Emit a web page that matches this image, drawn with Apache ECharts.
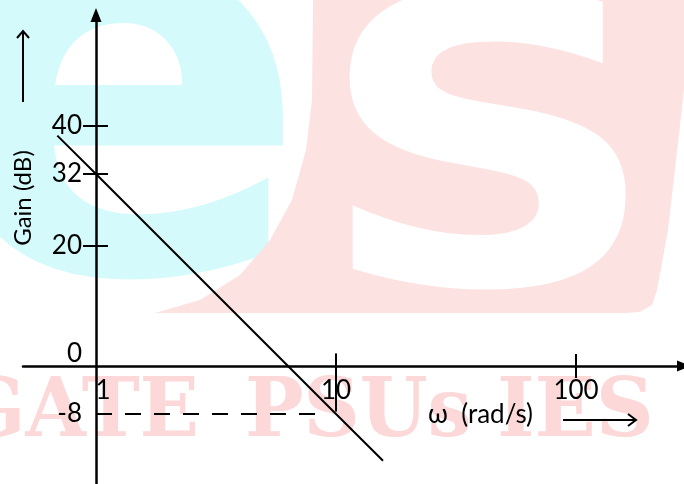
<!DOCTYPE html>
<html>
<head>
<meta charset="utf-8">
<script src="https://cdn.jsdelivr.net/npm/echarts@6/dist/echarts.min.js"></script>
<style>
  html, body { margin: 0; padding: 0; background: #fff; }
  #chart { width: 684px; height: 484px; }
</style>
</head>
<body>
<div id="chart"></div>
<script>
// asymptote of the gain plot, omega in rad/s, gain in dB
const omega = [0.69, 1, 10, 15.7]
const gain = [38.4, 32, -8, -15.8]
// dashed guide at -8 dB
const dashOmega = [1, 8.9]
const dashGain = [-8, -8]
// vertical mark at omega = 10
const dropOmega = [10, 10]
const dropGain = [2.1, -7.6]
// ticks and labels
const yTickValues = [20, 32, 40]
const yLabelValues = [-8, 0, 20, 32, 40]
const xTickValues = [10, 100]
const xLabelValues = [1, 10, 100]

const pairs = (xs, ys) => xs.map((x, i) => [x, ys[i]])

const X_MIN = 0.4965
const X_MAX = 281.8
const Y_MIN = -19.67
const Y_MAX = 58.5

const myChart = echarts.init(document.getElementById('chart'), null, { renderer: 'canvas' })

const pink = '#fde2e2'
const cyan = '#d5fafc'

// x axis sits at 0 dB, y axis at omega = 1 (moved in from the grid edges)
const xAxisBase = {
  type: 'log',
  logBase: 10,
  min: X_MIN,
  max: X_MAX,
  position: 'bottom',
  offset: -118,
  splitLine: { show: false },
  minorTick: { show: false }
}
const yAxisBase = {
  type: 'value',
  min: Y_MIN,
  max: Y_MAX,
  position: 'left',
  offset: -73,
  splitLine: { show: false }
}

myChart.setOption({
  animation: false,
  backgroundColor: '#fff',
  textStyle: { fontFamily: 'Lato' },
  grid: { left: 23, right: 0, top: 15, bottom: 0, containLabel: false, outerBoundsMode: 'none' },
  xAxis: [{
    ...xAxisBase,
    axisLine: {
      onZero: false,
      symbol: ['none', 'triangle'],
      symbolSize: [11, 14],
      lineStyle: { color: '#000', width: 2.5 }
    },
    axisTick: { customValues: xTickValues, length: 12, lineStyle: { color: '#000', width: 2 } },
    axisLabel: {
      customValues: xLabelValues,
      margin: 12,
      color: '#000',
      fontSize: 26,
      formatter: v => (v === 1 ? '{r|1}' : '{n|' + v + '}'),
      rich: { r: { padding: [0, 0, 0, 14] }, n: {} }
    }
  }, {
    ...xAxisBase,
    axisLine: { show: false, onZero: false },
    axisTick: { inside: true, customValues: xTickValues, length: 12, lineStyle: { color: '#000', width: 2 } },
    axisLabel: { show: false }
  }],
  yAxis: [{
    ...yAxisBase,
    axisLine: {
      show: true,
      onZero: false,
      symbol: ['none', 'triangle'],
      symbolSize: [11, 14],
      lineStyle: { color: '#000', width: 2.5 }
    },
    axisTick: { show: true, customValues: yTickValues, length: 13, lineStyle: { color: '#000', width: 2 } },
    axisLabel: {
      customValues: yLabelValues,
      margin: 14,
      color: '#000',
      fontSize: 26,
      formatter: v => (v === 0 ? '{up|0}' : '{n|' + v + '}'),
      rich: { up: { padding: [0, 0, 24, 0] }, n: {} }
    }
  }, {
    ...yAxisBase,
    axisLine: { show: false, onZero: false },
    axisTick: { show: true, inside: true, customValues: yTickValues, length: 12, lineStyle: { color: '#000', width: 2 } },
    axisLabel: { show: false }
  }],
  graphic: [
    // faint logo watermark behind the plot
    {
      type: 'text', z: -30, x: 120, y: 126,
      style: { text: 'e', fill: cyan, font: 'bold 560px "DejaVu Sans"', align: 'center', verticalAlign: 'middle' }
    },
    {
      type: 'polygon', z: -30,
      shape: {
        points: [[313, 0], [684, 0], [684, 90], [668, 230], [657, 290], [652, 305], [640, 312], [625, 313],
          [155, 313], [200, 300], [240, 275], [270, 240], [292, 200], [306, 150], [312, 100]]
      },
      style: { fill: pink }
    },
    {
      type: 'text', z: -25, x: 488, y: 180, scaleX: 1.2,
      style: { text: 'S', fill: '#fff', font: 'bold 400px "DejaVu Sans"', align: 'center', verticalAlign: 'middle' }
    },
    {
      type: 'text', z: -30, x: 199, y: 415, scaleX: 0.95,
      style: { text: 'GATE', fill: '#fcd8d8', font: 'bold 82px "DejaVu Serif"', align: 'right', verticalAlign: 'middle' }
    },
    {
      type: 'text', z: -30, x: 245, y: 415, scaleX: 0.95,
      style: { text: 'PSUs', fill: '#fcd8d8', font: 'bold 82px "DejaVu Serif"', align: 'left', verticalAlign: 'middle' }
    },
    {
      type: 'text', z: -30, x: 497, y: 415, scaleX: 0.98,
      style: { text: 'IES', fill: '#fcd8d8', font: 'bold 82px "DejaVu Serif"', align: 'left', verticalAlign: 'middle' }
    },
    // axis titles and their arrows
    {
      type: 'text', x: 23, y: 198, rotation: Math.PI / 2,
      style: { text: 'Gain (dB)', fill: '#000', font: '24px Lato', align: 'center', verticalAlign: 'middle' }
    },
    {
      type: 'polyline', shape: { points: [[23, 102], [23, 31]] },
      style: { stroke: '#000', lineWidth: 2 }
    },
    {
      type: 'polyline', shape: { points: [[17, 38], [23, 31], [29, 38]] },
      style: { stroke: '#000', lineWidth: 2, fill: null }
    },
    {
      type: 'text', x: 428, y: 415,
      style: { text: 'ω  (rad/s)', fill: '#000', font: '26px Lato', align: 'left', verticalAlign: 'middle' }
    },
    {
      type: 'polyline', shape: { points: [[563, 420], [636, 420]] },
      style: { stroke: '#000', lineWidth: 2 }
    },
    {
      type: 'polyline', shape: { points: [[628, 414], [636, 420], [628, 426]] },
      style: { stroke: '#000', lineWidth: 2, fill: null }
    }
  ],
  series: [{
    name: 'gain',
    type: 'line',
    data: pairs(omega, gain),
    symbol: 'none',
    lineStyle: { color: '#000', width: 2 },
    z: 5
  }, {
    name: 'guide',
    type: 'line',
    data: pairs(dashOmega, dashGain),
    symbol: 'none',
    lineStyle: { color: '#000', width: 2, type: [16, 13] }
  }, {
    name: 'drop',
    type: 'line',
    data: pairs(dropOmega, dropGain),
    symbol: 'none',
    lineStyle: { color: '#000', width: 2 }
  }]
})
</script>
</body>
</html>
